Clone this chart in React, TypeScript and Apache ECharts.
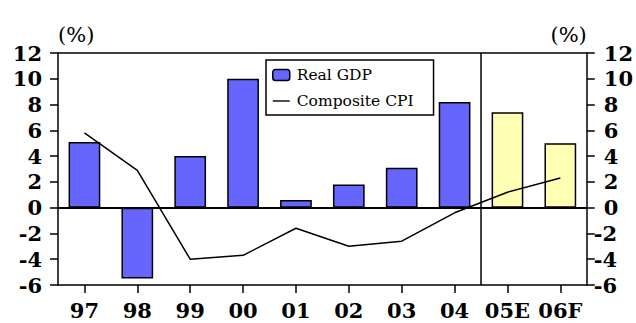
import React, { useEffect, useRef } from "react";
import * as echarts from "echarts";

const categories = ["97", "98", "99", "00", "01", "02", "03", "04", "05E", "06F"];
const realGdp = [5.1, -5.5, 4.0, 10.0, 0.6, 1.8, 3.1, 8.2, 7.4, 5.0];
const compositeCpi = [5.8, 2.9, -4.0, -3.7, -1.6, -3.0, -2.6, -0.4, 1.2, 2.3];
const yMin = -6;
const yMax = 12;
const yInterval = 2;
const forecastBoundary = 8; // boundary between actual (97-04) and forecast (05E, 06F)

const FONT = "'DejaVu Serif', 'Liberation Serif', serif";
const BLUE = "#6666FF";
const YELLOW = "#FFFFB3";
const LINE_ICON = "path://M0,0 L0,0 M0,4.8 L17,4.8 L17,6.2 L0,6.2 Z M17,11 L17,11";

export default function App() {
  const ref = useRef<HTMLDivElement>(null);
  useEffect(() => {
    if (!ref.current) return;
    const chart = echarts.init(ref.current, null, { renderer: "svg" });
    const isForecast = (c: string) => /[EF]$/.test(c);
    const yAxisCommon = {
      type: "value" as const,
      min: yMin,
      max: yMax,
      interval: yInterval,
      splitLine: { show: false },
      axisLine: { show: true, lineStyle: { color: "#000", width: 1.5 } },
      axisTick: { show: true, length: 8, lineStyle: { color: "#000", width: 1.5 } },
      nameTextStyle: { fontFamily: FONT, fontSize: 21, color: "#000" },
    };
    chart.setOption({
      animation: false,
      grid: { left: 58, right: 47, top: 53, bottom: 38 },
      legend: {
        orient: "vertical",
        left: 266,
        top: 60,
        borderColor: "#000",
        borderWidth: 1.5,
        padding: [7, 20, 6, 6],
        itemGap: 10,
        itemWidth: 17,
        itemHeight: 11,
        textStyle: { fontFamily: FONT, fontSize: 15.5, color: "#000", padding: [0, 0, 0, 2] },
        data: [
          { name: "Real GDP", itemStyle: { color: BLUE, borderColor: "#000", borderWidth: 1.5 } },
          { name: "Composite CPI", icon: LINE_ICON, itemStyle: { color: "#000", borderWidth: 0 } },
        ],
      },
      xAxis: [
        {
          type: "category",
          data: categories,
          position: "bottom",
          axisLine: { show: true, onZero: false, lineStyle: { color: "#000", width: 1.5 } },
          axisTick: { show: true, alignWithLabel: true, length: 8, lineStyle: { color: "#000", width: 1.5 } },
          axisLabel: {
            interval: 0,
            fontFamily: FONT,
            fontWeight: "bold",
            fontSize: 21,
            lineHeight: 22,
            color: "#000",
            margin: 14,
          },
        },
        {
          type: "value",
          min: 0,
          max: categories.length,
          position: "top",
          axisLine: { show: true, onZero: false, lineStyle: { color: "#000", width: 1.5 } },
          axisTick: { show: false },
          axisLabel: { show: false },
          splitLine: { show: false },
        },
      ],
      yAxis: [
        {
          ...yAxisCommon,
          position: "left",
          name: "(%)",
          nameLocation: "end",
          nameGap: 8,
          nameTextStyle: { ...yAxisCommon.nameTextStyle, align: "left" },
          axisLabel: {
            fontFamily: FONT,
            fontWeight: "bold",
            fontSize: 21,
            color: "#000",
            margin: 16,
            align: "right",
          },
        },
        {
          ...yAxisCommon,
          position: "right",
          name: "(%)",
          nameLocation: "end",
          nameGap: 8,
          nameTextStyle: { ...yAxisCommon.nameTextStyle, align: "right" },
          axisLabel: {
            margin: 7,
            align: "left",
            formatter: (v: number) => (v >= 0 ? `{p|${v}}` : `{n|${v}}`),
            rich: {
              p: { fontFamily: FONT, fontWeight: "bold", fontSize: 21, color: "#000", padding: [0, 0, 0, 10] },
              n: { fontFamily: FONT, fontWeight: "bold", fontSize: 21, color: "#000" },
            },
          },
        },
      ],
      series: [
        {
          name: "Real GDP",
          type: "bar",
          xAxisIndex: 0,
          yAxisIndex: 0,
          barWidth: "60%",
          itemStyle: { color: BLUE, borderColor: "#000", borderWidth: 1.5 },
          data: realGdp.map((v, i) => ({
            value: v,
            itemStyle: isForecast(categories[i]) ? { color: YELLOW } : undefined,
          })),
          markLine: {
            silent: true,
            symbol: "none",
            label: { show: false },
            lineStyle: { color: "#000", width: 2, type: "solid" },
            data: [{ yAxis: 0 }],
          },
        },
        {
          name: "Composite CPI",
          type: "line",
          xAxisIndex: 0,
          yAxisIndex: 0,
          symbol: "none",
          lineStyle: { color: "#000", width: 1.5 },
          itemStyle: { color: "#000" },
          data: compositeCpi,
        },
        {
          name: "separator",
          type: "line",
          xAxisIndex: 1,
          yAxisIndex: 0,
          symbol: "none",
          lineStyle: { color: "#000", width: 1.5 },
          data: [
            [forecastBoundary, yMin],
            [forecastBoundary, yMax],
          ],
        },
      ],
    });
    return () => chart.dispose();
  }, []);
  return <div ref={ref} style={{ width: 636, height: 323, position: "absolute", left: 0, top: 0 }} />;
}
